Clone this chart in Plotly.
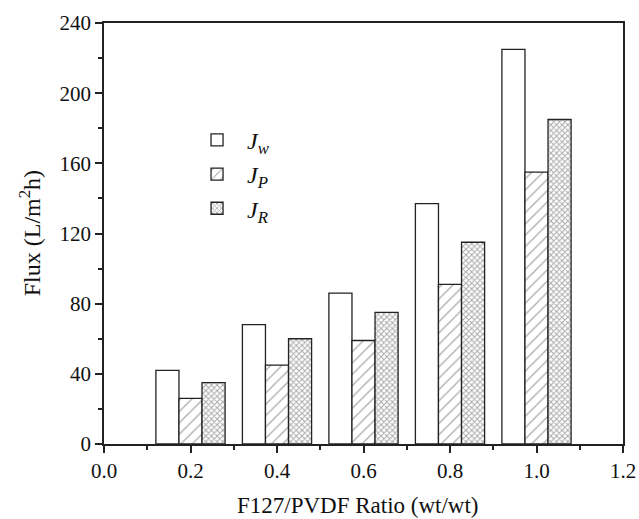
import plotly.graph_objects as go

# F127/PVDF blend ratios (wt/wt)
ratios = [0.2, 0.4, 0.6, 0.8, 1.0]

# Flux values, L/(m^2 h)
flux_w = [42, 68, 86, 137, 225]
flux_p = [26, 45, 59, 91, 155]
flux_r = [35, 60, 75, 115, 185]

series_names = [
    "<i>J</i><sub><i>w</i></sub>",
    "<i>J</i><sub><i>P</i></sub>",
    "<i>J</i><sub><i>R</i></sub>",
]

x_ticks = [0.0, 0.2, 0.4, 0.6, 0.8, 1.0, 1.2]
y_ticks = [0, 40, 80, 120, 160, 200, 240]

x_title = "F127/PVDF Ratio (wt/wt)"
y_title = "Flux (L/m<sup>2</sup>h)"

FONT = "Liberation Serif, Times New Roman, serif"
LINE = "#222222"

fig = go.Figure()

fig.add_trace(go.Bar(
    x=ratios, y=flux_w, name=series_names[0],
    marker=dict(color="white", line=dict(color=LINE, width=1.3)),
))
fig.add_trace(go.Bar(
    x=ratios, y=flux_p, name=series_names[1],
    marker=dict(
        color="white", line=dict(color=LINE, width=1.3),
        pattern=dict(shape="/", fgcolor="#555555", bgcolor="white",
                     size=8, solidity=0.16),
    ),
))
fig.add_trace(go.Bar(
    x=ratios, y=flux_r, name=series_names[2],
    marker=dict(
        color="white", line=dict(color=LINE, width=1.3),
        pattern=dict(shape="x", fgcolor="#555555", bgcolor="white",
                     size=4, solidity=0.45),
    ),
))

axis_common = dict(
    showline=True, linecolor=LINE, linewidth=1.6, mirror=True,
    showgrid=False, zeroline=False, automargin=False,
    ticks="outside", ticklen=7, tickwidth=1.5, tickcolor=LINE,
    tickfont=dict(family=FONT, size=21, color="#111111"),
)

fig.update_layout(
    width=639, height=519,
    margin=dict(l=104, r=16, t=23, b=75),
    paper_bgcolor="white", plot_bgcolor="white",
    barmode="group", bargap=0.2, bargroupgap=0,
    font=dict(family=FONT, size=21, color="#111111"),
    xaxis=dict(
        **axis_common,
        range=[0, 1.2], tickvals=x_ticks,
        ticktext=[f"{v:.1f}" for v in x_ticks],
        minor=dict(ticks="outside", ticklen=4, tickwidth=1.5,
                   tickcolor=LINE, dtick=0.1),
    ),
    yaxis=dict(
        **axis_common,
        range=[0, 240], tickvals=y_ticks,
        minor=dict(ticks="outside", ticklen=4, tickwidth=1.5,
                   tickcolor=LINE, dtick=20),
    ),
    legend=dict(
        x=0.16, y=0.775, xanchor="left", yanchor="top",
        bgcolor="rgba(0,0,0,0)", borderwidth=0,
        font=dict(family=FONT, size=24),
        itemwidth=50, tracegroupgap=4,
    ),
    annotations=[
        # axis titles placed in paper coordinates below / left of the plot
        dict(text=x_title, xref="paper", yref="paper", x=0.49, y=-0.145,
             xanchor="center", yanchor="middle", showarrow=False,
             font=dict(family=FONT, size=23, color="#111111")),
        dict(text=y_title, xref="paper", yref="paper", x=-0.143, y=0.5,
             xanchor="center", yanchor="middle", showarrow=False,
             textangle=-90,
             font=dict(family=FONT, size=24, color="#111111")),
    ],
)

fig.write_html("out.html")
